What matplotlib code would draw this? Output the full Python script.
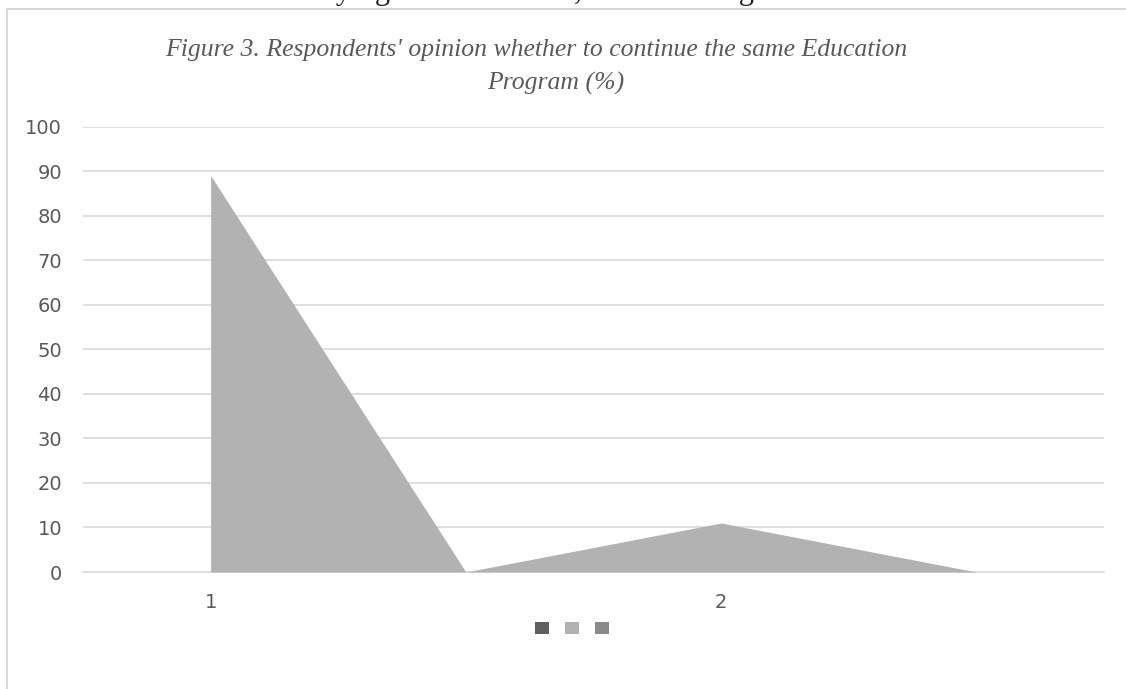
import numpy as np
import matplotlib
matplotlib.use("Agg")
import matplotlib.pyplot as plt
from matplotlib.patches import Patch, Rectangle

# data
categories = ["1", "", "2", ""]
values = [89, 0, 11, 0]
series_colors = ["#5f5f5f", "#b2b2b2", "#8a8a8a"]

title_lines = ["Figure 3. Respondents' opinion whether to continue the same Education",
               "Program (%)"]
cut_text = "the Continue Studying in the Institute; with the Program of the two series"

W, H = 1126, 689
fig = plt.figure(figsize=(W / 100, H / 100), dpi=100)

# chart border (Excel chart area)
fig.patches.append(Rectangle((7 / W, -0.1), 1.2, (H - 9) / H + 0.1, transform=fig.transFigure,
                             fill=False, edgecolor="#d9d9d9", linewidth=1.5))

# line of the page above, cut off by the crop (only descenders show)
fig.text(0.5, 1 + 1 / H, cut_text, ha="center", va="baseline", fontsize=22,
         family="Liberation Serif", color="#222222")

ax = fig.add_axes([83 / W, (H - 572) / H, (1104 - 83) / W, (572 - 126.5) / H])
x = np.arange(len(values))
ax.fill_between(x, values, 0, color=series_colors[1], linewidth=0, zorder=3)

ax.set_xlim(-0.5, len(values) - 0.5)
ax.set_ylim(0, 100)
ax.set_yticks(np.arange(0, 101, 10))
ax.set_xticks(x)
ax.set_xticklabels(categories)
ax.grid(axis="y", color="#d9d9d9", linewidth=1.2, zorder=0)
for s in ax.spines.values():
    s.set_visible(False)
ax.spines["bottom"].set_visible(True)
ax.spines["bottom"].set_color("#d9d9d9")
ax.spines["bottom"].set_linewidth(1.2)
ax.tick_params(length=0, labelsize=14, labelcolor="#595959")
ax.tick_params(axis="y", pad=15)
ax.tick_params(axis="x", pad=15)

# title, two lines as in the reference
for (cx, cy), line in zip([(536, 50), (556, 83)], title_lines):
    fig.text(cx / W, 1 - cy / H, line, ha="center", va="center", fontsize=18.5,
             family="Liberation Serif", style="italic", color="#595959")

handles = [Patch(facecolor=c, edgecolor="none") for c in series_colors]
fig.legend(handles, ["", "", ""], loc="center", bbox_to_anchor=(572 / W, 1 - 629 / H),
           ncol=3, frameon=False, fontsize=10, handlelength=1.0, handleheight=1.0,
           handletextpad=0.0, columnspacing=1.15)

fig.savefig("out.png", dpi=100)
